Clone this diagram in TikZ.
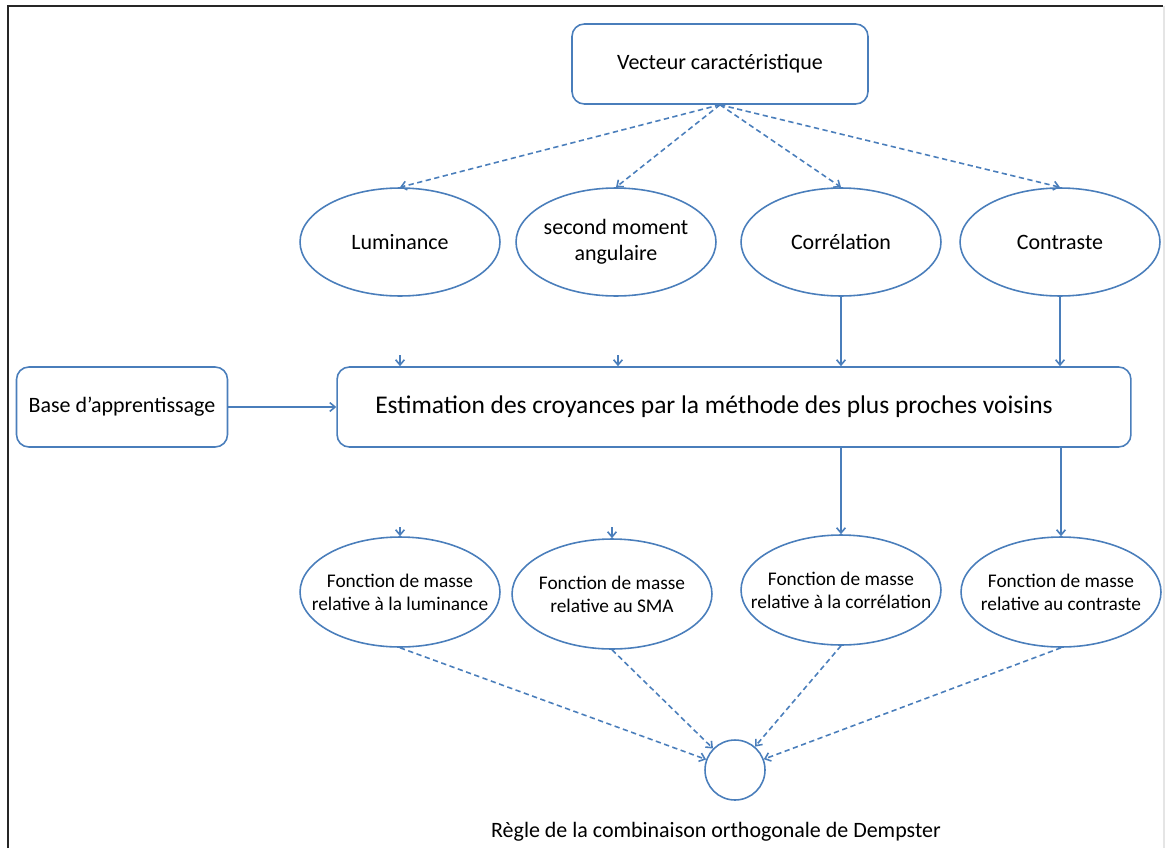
\documentclass[tikz,border=0pt]{standalone}
\usepackage{fontspec}
\setmainfont{Carlito}
\usetikzlibrary{arrows.meta,shapes.geometric}
\definecolor{wblue}{RGB}{74,126,187}
\tikzset{
  box/.style={draw=wblue,line width=0.9pt,rounded corners=7pt,align=center,font=\fontsize{12.5}{15}\selectfont},
  crit/.style={ellipse,draw=wblue,line width=0.9pt,minimum width=4cm,minimum height=2.16cm,inner xsep=-0.3cm,inner ysep=0pt,align=center,font=\fontsize{12.5}{15}\selectfont},
  fmass/.style={ellipse,draw=wblue,line width=0.9pt,minimum width=4cm,minimum height=2.2cm,inner xsep=-0.4cm,inner ysep=0pt,align=center,font=\fontsize{11}{13}\selectfont},
  arr/.style={draw=wblue,line width=0.9pt,-{Straight Barb[length=3pt,width=5pt]}},
  dasharr/.style={arr,dash pattern=on 3pt off 2pt},
  frame/.style={draw=black!85,line width=0.8pt}
}

\begin{document}
\begin{tikzpicture}[x=0.02cm,y=-0.02cm]
\useasboundingbox (0,0) rectangle (1165,848);
\draw[frame] (8,848) -- (8,6) -- (1163,6);
\draw[black!10,line width=0.8pt] (1164,6) -- (1164,848);
\node[box,minimum width=5.92cm,minimum height=1.6cm] (vec) at (720,64) {Vecteur caractéristique};
\node[crit] (lum) at (400,242) {Luminance};
\node[crit] (sma) at (616,242) {second moment\\angulaire};
\node[crit] (cor) at (841,242) {Corrélation};
\node[crit] (con) at (1060,242) {Contraste};
\node[box,minimum width=4.22cm,minimum height=1.6cm] (base) at (122,407) {Base d'apprentissage};
\node[box,minimum width=15.88cm,minimum height=1.6cm,font=\fontsize{14.5}{17}\selectfont] (est) at (734,407) {Estimation des croyances par la méthode des plus proches voisins\hspace{0.8cm}};
\node[fmass] (flum) at (400,592) {Fonction de masse\\relative à la luminance};
\node[fmass] (fsma) at (612,594) {Fonction de masse\\relative au SMA};
\node[fmass] (fcor) at (841,590) {Fonction de masse\\relative à la corrélation};
\node[fmass] (fcon) at (1061,592) {Fonction de masse\\relative au contraste};
\node[circle,draw=wblue,line width=0.9pt,minimum size=1.2cm,inner sep=0pt] (dem) at (735,770) {};
\node[font=\fontsize{12.5}{15}\selectfont] (dlab) at (716,832) {Règle de la combinaison orthogonale de Dempster};
\foreach \c in {lum,sma,cor,con}{\draw[dasharr] (vec.south) -- (\c.north);}
\draw[arr] (base) -- (est);
\coordinate (in1) at (400,355);
\coordinate (in2) at (618,355);
\coordinate (out1) at (400,527);
\coordinate (out2) at (612,527);
\draw[arr] (in1) -- (in1 |- est.north);
\draw[arr] (in2) -- (in2 |- est.north);
\draw[arr] (out1) -- (flum.north);
\draw[arr] (out2) -- (fsma.north);
\draw[arr] (cor.south) -- (cor.south |- est.north);
\draw[arr] (con.south) -- (con.south |- est.north);
\draw[arr] (est.south -| fcor.north) -- (fcor.north);
\draw[arr] (est.south -| fcon.north) -- (fcon.north);
\foreach \f in {flum,fsma,fcor,fcon}{\draw[dasharr] (\f.south) -- (dem);}
\end{tikzpicture}
\end{document}
